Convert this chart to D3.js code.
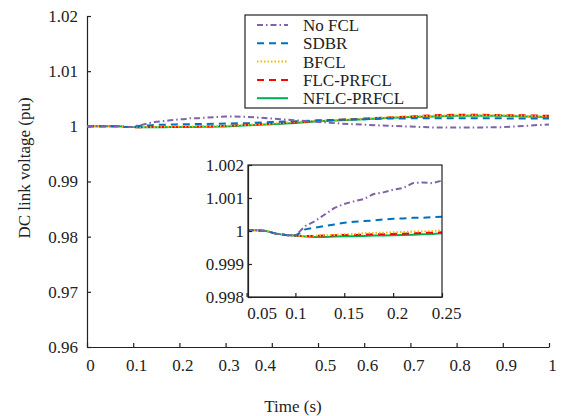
<!DOCTYPE html>
<html>
<head>
<meta charset="utf-8">
<script src="https://cdn.jsdelivr.net/npm/d3@7"></script>
<style>
  body { margin: 0; background: #fff; }
  svg text { font-family: "Liberation Serif", "Times New Roman", serif; fill: #222; }
</style>
</head>
<body>
<div id="chart"></div>
<script>
// time points (s)
let time = [0, 0.05, 0.06, 0.07, 0.08, 0.09, 0.1, 0.11, 0.12, 0.13, 0.14, 0.15, 0.16, 0.17, 0.18, 0.19, 0.2,
  0.21, 0.22, 0.23, 0.24, 0.25, 0.3, 0.35, 0.4, 0.45, 0.5, 0.55, 0.6, 0.65, 0.7, 0.75, 0.8, 0.85, 0.9, 0.95, 1.0]

let noFCL = [1.0, 1.00003, 1.00002, 1.0, 0.99992, 0.99988, 0.99986, 1.00015, 1.0003, 1.0005, 1.0007, 1.00082, 1.0009, 1.00097, 1.00112, 1.00117, 1.00125,
  1.0013, 1.00145, 1.00147, 1.00145, 1.00153, 1.0018, 1.0017, 1.0014, 1.0011, 1.0008, 1.0005, 1.0003, 1.0001, 0.99995, 0.9998, 0.9998, 0.9998, 0.99985, 1.0001, 1.00035]
let sdbr = [1.0, 1.00003, 1.00002, 1.0, 0.99992, 0.99988, 0.99986, 1.00005, 1.0001, 1.00015, 1.0002, 1.00025, 1.00028, 1.0003, 1.00032, 1.00035, 1.00037,
  1.00038, 1.0004, 1.0004, 1.00042, 1.00043, 1.0005, 1.0006, 1.0008, 1.0009, 1.0011, 1.0012, 1.0013, 1.0014, 1.00145, 1.00145, 1.00145, 1.00145, 1.00145, 1.0014, 1.0014]
let bfcl = [1.0, 1.00003, 1.00002, 1.0, 0.99992, 0.99988, 0.99986, 0.99985, 0.99986, 0.99987, 0.99988, 0.9999, 0.99991, 0.99993, 0.99994, 0.99995, 0.99996,
  0.99997, 0.99998, 0.99999, 1.0, 1.00002, 1.0001, 1.0003, 1.0005, 1.0008, 1.001, 1.0012, 1.0014, 1.0016, 1.0018, 1.0019, 1.002, 1.002, 1.002, 1.0019, 1.0018]
let flcPrfcl = [1.0, 1.00003, 1.00002, 1.0, 0.99992, 0.99988, 0.99986, 0.99985, 0.99985, 0.99986, 0.99987, 0.99988, 0.99988, 0.99989, 0.9999, 0.9999, 0.99991,
  0.99992, 0.99993, 0.99994, 0.99995, 0.99996, 1.0001, 1.0003, 1.0005, 1.0007, 1.001, 1.0012, 1.0014, 1.0016, 1.0018, 1.002, 1.0021, 1.0021, 1.002, 1.002, 1.0019]
let nflcPrfcl = [1.0, 1.00003, 1.00002, 1.0, 0.99992, 0.99988, 0.99986, 0.99983, 0.99982, 0.99982, 0.99983, 0.99984, 0.99984, 0.99985, 0.99986, 0.99986, 0.99987,
  0.99988, 0.99989, 0.9999, 0.99991, 0.99993, 0.99998, 1.0002, 1.0004, 1.0006, 1.0009, 1.0011, 1.0013, 1.0015, 1.0017, 1.0018, 1.0019, 1.0019, 1.0019, 1.0018, 1.0017]

let seriesNames = ["No FCL", "SDBR", "BFCL", "FLC-PRFCL", "NFLC-PRFCL"]
let seriesValues = [noFCL, sdbr, bfcl, flcPrfcl, nflcPrfcl]
let seriesColours = ["#7f63a8", "#0072bd", "#f5b800", "#ff0000", "#00b050"]
let seriesDashes = ["6,3,1.5,3", "7,5", "1.5,2", "7,5", null]

let xTicks = [0, 0.1, 0.2, 0.3, 0.4, 0.5, 0.6, 0.7, 0.8, 0.9, 1]
let yTicks = [0.96, 0.97, 0.98, 0.99, 1, 1.01, 1.02]
let insetXTicks = [0.05, 0.1, 0.15, 0.2, 0.25]
let insetYTicks = [0.998, 0.999, 1, 1.001, 1.002]

const W = 564, H = 416
const plot = { left: 87, right: 549, top: 16, bottom: 347 }
const inset = { left: 248, right: 442, top: 165, bottom: 297 }

const svg = d3.select("#chart").append("svg").attr("width", W).attr("height", H)

const series = seriesNames.map((name, i) => ({
  name: name,
  colour: seriesColours[i],
  dash: seriesDashes[i],
  points: time.map((t, j) => [t, seriesValues[i][j]])
}))

// main plot
const x = d3.scaleLinear().domain([0, 1]).range([plot.left, plot.right])
const y = d3.scaleLinear().domain([0.96, 1.02]).range([plot.bottom, plot.top])

const xAxis = svg.append("g").attr("transform", `translate(0,${plot.bottom})`)
  .call(d3.axisBottom(x).tickValues(xTicks).tickSizeInner(-4).tickSizeOuter(0).tickPadding(12)
    .tickFormat(d => d3.format("")(d)))
xAxis.selectAll("text").style("font-size", "17px")
  .attr("dx", d => d == 0.4 ? -7 : d == 0.5 ? 7 : 3)
const yAxis = svg.append("g").attr("transform", `translate(${plot.left},0)`)
  .call(d3.axisLeft(y).tickValues(yTicks).tickSizeInner(-4).tickSizeOuter(0).tickPadding(9)
    .tickFormat(d => d3.format("")(+d.toFixed(2))))
yAxis.selectAll("text").style("font-size", "17px")
svg.selectAll(".domain, .tick line").attr("stroke", "#222").attr("stroke-width", 1.2)

const line = d3.line().x(d => x(d[0])).y(d => y(d[1]))
svg.append("g").selectAll("path")
  .data(series.slice().reverse())
  .join("path")
  .attr("d", d => line(d.points))
  .attr("fill", "none")
  .attr("stroke", d => d.colour)
  .attr("stroke-width", 2)
  .attr("stroke-dasharray", d => d.dash)

svg.append("text").attr("transform", `translate(30,168) rotate(-90)`)
  .attr("text-anchor", "middle").style("font-size", "17px").text("DC link voltage (pu)")
svg.append("text").attr("x", 293).attr("y", 412)
  .attr("text-anchor", "middle").style("font-size", "17px").text("Time (s)")

// legend
const legend = svg.append("g")
legend.append("rect").attr("x", 245).attr("y", 15).attr("width", 182).attr("height", 93)
  .attr("fill", "#fff").attr("stroke", "#222").attr("stroke-width", 1.2)
const rows = legend.selectAll("g.row").data(series).join("g")
  .attr("transform", (d, i) => `translate(0,${25 + i * 18.3})`)
rows.append("line").attr("x1", 257).attr("x2", 288)
  .attr("stroke", d => d.colour).attr("stroke-width", 2).attr("stroke-dasharray", d => d.dash)
rows.append("text").attr("x", 303).attr("dy", "0.35em").style("font-size", "17px").text(d => d.name)

// inset
const ix = d3.scaleLinear().domain([0.0515, 0.25]).range([inset.left, inset.right])
const iy = d3.scaleLinear().domain([0.998, 1.002]).range([inset.bottom, inset.top])
const ins = svg.append("g")
ins.append("rect").attr("x", inset.left).attr("y", inset.top)
  .attr("width", inset.right - inset.left).attr("height", inset.bottom - inset.top)
  .attr("fill", "#fff")
const clip = svg.append("clipPath").attr("id", "insetClip").append("rect")
  .attr("x", inset.left).attr("y", inset.top)
  .attr("width", inset.right - inset.left).attr("height", inset.bottom - inset.top)
const iline = d3.line().x(d => ix(d[0])).y(d => iy(d[1]))
ins.append("g").attr("clip-path", "url(#insetClip)").selectAll("path")
  .data(series.slice().reverse())
  .join("path")
  .attr("d", d => iline(d.points.filter(p => p[0] >= 0.04 && p[0] <= 0.26)))
  .attr("fill", "none")
  .attr("stroke", d => d.colour)
  .attr("stroke-width", 2)
  .attr("stroke-dasharray", d => d.dash)

const ixAxis = ins.append("g").attr("transform", `translate(0,${inset.bottom})`)
  .call(d3.axisBottom(ix).tickValues(insetXTicks).tickSizeInner(-4).tickSizeOuter(0).tickPadding(10)
    .tickFormat(d => d3.format("")(d)))
ixAxis.selectAll("text").style("font-size", "17px")
  .attr("dx", d => d == 0.05 ? 15 : d == 0.1 ? 0 : 4)
const iyAxis = ins.append("g").attr("transform", `translate(${inset.left},0)`)
  .call(d3.axisLeft(iy).tickValues(insetYTicks).tickSizeInner(-4).tickSizeOuter(0).tickPadding(4)
    .tickFormat(d => d3.format("")(+d.toFixed(3))))
iyAxis.selectAll("text").style("font-size", "17px")
ins.append("rect").attr("x", inset.left).attr("y", inset.top)
  .attr("width", inset.right - inset.left).attr("height", inset.bottom - inset.top)
  .attr("fill", "none").attr("stroke", "#222").attr("stroke-width", 1.2)
ins.selectAll(".domain, .tick line").attr("stroke", "#222").attr("stroke-width", 1.2)
</script>
</body>
</html>
